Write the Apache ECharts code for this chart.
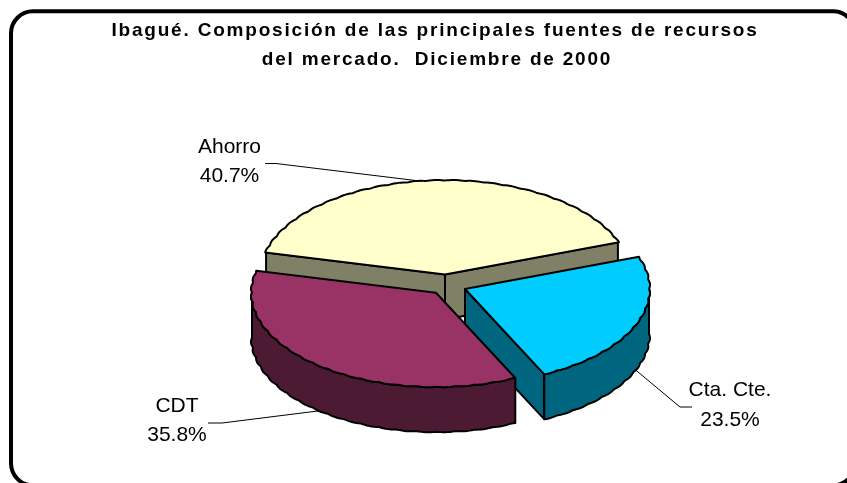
<!DOCTYPE html>
<html><head><meta charset="utf-8">
<style>html,body{margin:0;padding:0;background:#fff}#c{width:847px;height:483px}</style>
<script src="https://cdn.jsdelivr.net/npm/echarts@6/dist/echarts.min.js"></script>
</head><body><div id="c"></div>
<script>
const categories = ['Ahorro', 'CDT', 'Cta. Cte.'];
const shares = [40.7, 35.8, 23.5];
const percentLabels = ['40.7%', '35.8%', '23.5%'];
const titleLines = ['Ibagué. Composición de las principales fuentes de recursos', 'del mercado.  Diciembre de 2000'];

const topColors = ['#FFFFCC', '#993366', '#00CCFF'];
const sideColors = ['#808066', '#4D1A33', '#006680'];
const apex = [[445, 274.5], [436, 292.7], [465, 289]];
const RX = 184, RY = 94, DEPTH = 45, START = 20;
const labelPos = [[229.5, 147, 176.5], [177, 406, 435], [730, 390.5, 420]];
const elbows = [[[265, 163.5], [276, 163.5]], [[208, 423], [222, 423]], [[692, 407], [680, 407]]];
const leaderShift = [4, 0, 0];
const drawOrder = [0, 2, 1];

// Title tracking: the canvas text API reads this when the bold title is painted.
const nativeFill = CanvasRenderingContext2D.prototype.fillText;
CanvasRenderingContext2D.prototype.fillText = function (t, x, y, w) {
  this.letterSpacing = this.font.indexOf('bold') >= 0 ? '1.8px' : '0px';
  return w === undefined ? nativeFill.call(this, t, x, y) : nativeFill.call(this, t, x, y, w);
};

const rad = d => d * Math.PI / 180;
function angles() {
  const total = shares.reduce((a, b) => a + b, 0);
  let a = START;
  return shares.map(v => { const s = a; a += v / total * 360; return [s, a]; });
}
function rimPoint(c, t, dy, wob) {
  const f = wob ? 1 + 0.007 * Math.abs(Math.sin(rad(t) * 30)) : 1;
  return [c[0] + RX * f * Math.cos(rad(t)), c[1] - RY * f * Math.sin(rad(t)) + dy];
}
function rim(c, a, b, dy) {
  const pts = [], step = 0.75, n = Math.ceil(Math.abs(b - a) / step);
  for (let i = 0; i <= n; i++) pts.push(rimPoint(c, a + (b - a) * i / n, dy, true));
  return pts;
}
const line = { stroke: '#000', lineWidth: 2, lineJoin: 'round' };
const poly = (points, fill) => ({ type: 'polygon', shape: { points }, style: Object.assign({ fill }, line) });

function renderItem(params, api) {
  const i = params.dataIndex;
  const [a, b] = angles()[i];
  const c = apex[i];
  const kids = [];
  const side = sideColors[i], top = topColors[i];
  const mid = (a + b) / 2;
  if (i === 0) {
    for (const t of [b, a]) {
      const p = rimPoint(c, t, 0);
      kids.push(poly([c, p, [p[0], p[1] + DEPTH], [c[0], c[1] + DEPTH]], side));
    }
  }
  if (i === 2) {
    const p = rimPoint(c, a, 0);
    kids.push(poly([c, p, [p[0], p[1] + DEPTH], [c[0], c[1] + DEPTH]], side));
  }
  const from = Math.max(a, 180), to = Math.min(b, 360);
  if (to > from) {
    const upper = rim(c, from, to, 0), lower = rim(c, from, to, DEPTH).reverse();
    kids.push(poly(upper.concat(lower), side));
  }
  kids.push(poly([c].concat(rim(c, a, b, 0)), top));
  const anchor = rimPoint(c, mid + leaderShift[i], (mid > 180 ? DEPTH : 0));
  kids.push({ type: 'polyline', shape: { points: elbows[i].concat([anchor]) }, style: { stroke: '#000', lineWidth: 1, fill: null } });
  const lp = labelPos[i];
  const txt = (text, y) => ({ type: 'text', style: { text, x: lp[0], y, align: 'center', verticalAlign: 'middle', font: '21px "Liberation Sans", Arial, sans-serif', fill: '#000' } });
  kids.push(txt(api.value(1), lp[1]), txt(api.value(2), lp[2]));
  return { type: 'group', children: kids };
}

const data = drawOrder.map(i => ({ value: [shares[i], categories[i], percentLabels[i]] }));
const chart = echarts.init(document.getElementById('c'), null, { renderer: 'canvas' });
const titleFont = 'bold 19px "Liberation Sans", Arial, sans-serif';
chart.setOption({
  animation: false,
  backgroundColor: '#fff',
  graphic: [
    { type: 'rect', z: 0, shape: { x: 11, y: 11.3, width: 844, height: 474, r: 22 }, style: { fill: '#fff', stroke: '#000', lineWidth: 4 } },
    { type: 'text', z: 5, style: { text: titleLines[0], x: 435, y: 31, align: 'center', verticalAlign: 'middle', font: titleFont, fill: '#000' } },
    { type: 'text', z: 5, style: { text: titleLines[1], x: 437, y: 60, align: 'center', verticalAlign: 'middle', font: titleFont, fill: '#000' } }
  ],
  series: [{
    type: 'custom', coordinateSystem: 'none', z: 3, silent: true,
    renderItem: function (params, api) {
      return renderItem({ dataIndex: drawOrder[params.dataIndex] }, api);
    },
    encode: {},
    data: data
  }]
});
</script></body></html>
